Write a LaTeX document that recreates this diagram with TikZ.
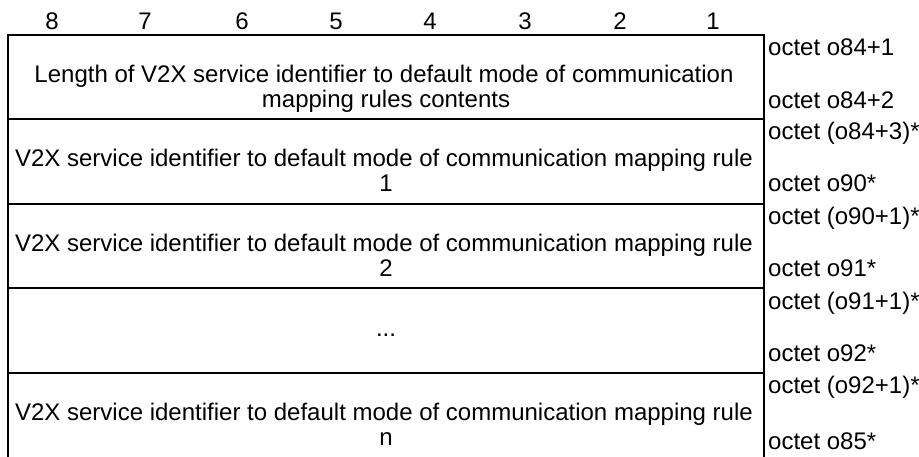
\documentclass[tikz,border=0pt]{standalone}
\usepackage{fontspec}
\setmainfont{Liberation Sans}
\begin{document}
\begin{tikzpicture}[x=1pt,y=-1pt,
  every node/.style={inner sep=0pt,font=\fontsize{24}{26}\selectfont},
  rule/.style={line width=2pt},
  maintxt/.style={anchor=base},
  lab/.style={anchor=base west}]
\useasboundingbox (0,0) rectangle (919,457);
% frame
\draw[rule] (8,457) -- (8,35) -- (764,35) -- (764,457);
\foreach \y in {119.5,204,288.5,373} \draw[rule] (7,\y) -- (765,\y);
% bit numbers
\foreach \x/\t [count=\i] in {52/8,145/7,242/6,336/5,430/4,525/3,620/2,713/1}
  \node[anchor=base] (h\i) at (\x,30) {\t};
% row 1
\node[maintxt] (r1a) at (384,83) {Length of V2X service identifier to default mode of communication};
\node[maintxt] (r1b) at (386,107.5) {mapping rules contents};
\node[lab] (l1a) at (768,56) {octet o84+1};
\node[lab] (l1b) at (768,109) {octet o84+2};
% row 2
\node[maintxt] (r2a) at (384,167) {V2X service identifier to default mode of communication mapping rule};
\node[maintxt] (r2b) at (386,192) {1};
\node[lab] (l2a) at (768,140) {octet (o84+3)*};
\node[lab] (l2b) at (768,192) {octet o90*};
% row 3
\node[maintxt] (r3a) at (384,251.5) {V2X service identifier to default mode of communication mapping rule};
\node[maintxt] (r3b) at (386,276.5) {2};
\node[lab] (l3a) at (768,224.5) {octet (o90+1)*};
\node[lab] (l3b) at (768,276.5) {octet o91*};
% row 4
\node[maintxt] (r4a) at (386,336) {...};
\node[lab] (l4a) at (768,309) {octet (o91+1)*};
\node[lab] (l4b) at (768,361) {octet o92*};
% row 5
\node[maintxt] (r5a) at (384,420.5) {V2X service identifier to default mode of communication mapping rule};
\node[maintxt] (r5b) at (386,445.5) {n};
\node[lab] (l5a) at (768,393.5) {octet (o92+1)*};
\node[lab] (l5b) at (768,449) {octet o85*};
\end{tikzpicture}
\end{document}
